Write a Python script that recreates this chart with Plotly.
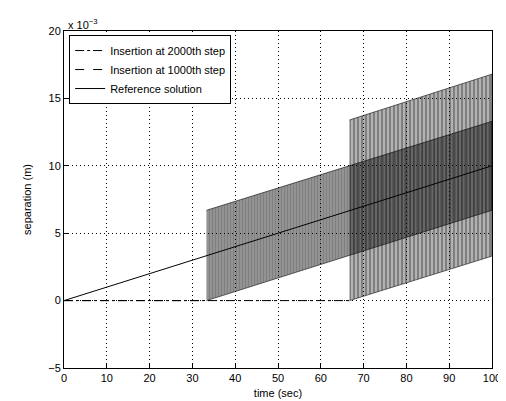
import plotly.graph_objects as go

# values in units of 1e-3 m
ref_t = [0, 100]
ref_y = [0, 10.0]

# insertion at 1000th step: flat until insertion, then an oscillating band
ins1000_flat_t = [0, 33.3]
ins1000_flat_y = [0, 0]
ins1000_band_t = [33.3, 100]
ins1000_low = [0, 6.7]
ins1000_high = [6.7, 13.3]

# insertion at 2000th step
ins2000_flat_t = [0, 66.7]
ins2000_flat_y = [0, 0]
ins2000_band_t = [66.7, 100]
ins2000_low = [0, 3.3]
ins2000_high = [13.4, 16.8]

x_ticks = list(range(0, 101, 10))
y_ticks = [-5, 0, 5, 10, 15, 20]

FONT = "Liberation Sans, Arial, sans-serif"

fig = go.Figure()


def band(t, low, high, size, solidity):
    # closed polygon between the lower and upper envelopes, hatched vertically
    xs = t + t[::-1]
    ys = low + high[::-1]
    return go.Scatter(
        x=xs, y=ys, fill="toself", mode="lines",
        line=dict(width=0.6, color="black"),
        fillcolor="rgba(0,0,0,0)",
        fillpattern=dict(shape="|", fgcolor="black", bgcolor="rgba(0,0,0,0)",
                         size=size, solidity=solidity, fillmode="overlay"),
        showlegend=False, hoverinfo="skip",
    )


fig.add_trace(band(ins1000_band_t, ins1000_low, ins1000_high, 3, 0.9))
fig.add_trace(band(ins2000_band_t, ins2000_low, ins2000_high, 4, 0.8))

fig.add_trace(go.Scatter(
    x=ins2000_flat_t, y=ins2000_flat_y, mode="lines",
    line=dict(color="black", width=1, dash="dashdot"),
    name="Insertion at 2000th step",
))
fig.add_trace(go.Scatter(
    x=ins1000_flat_t, y=ins1000_flat_y, mode="lines",
    line=dict(color="black", width=1, dash="dash"),
    name="Insertion at 1000th step",
))
fig.add_trace(go.Scatter(
    x=ref_t, y=ref_y, mode="lines",
    line=dict(color="black", width=1),
    name="Reference solution",
))

axis_common = dict(
    showline=True, linecolor="black", linewidth=1, mirror=True,
    ticks="inside", ticklen=5, tickcolor="black",
    showgrid=True, gridcolor="black", gridwidth=1, griddash="1px,3px",
    zeroline=False, automargin=False,
    tickfont=dict(family=FONT, size=11, color="black"),
)

fig.update_xaxes(
    range=[0, 100], tickvals=x_ticks,
    title=dict(text="time (sec)", font=dict(family=FONT, size=11, color="black"), standoff=6),
    **axis_common,
)
fig.update_yaxes(
    range=[-5, 20], tickvals=y_ticks,
    title=dict(text="separation (m)", font=dict(family=FONT, size=11, color="black"), standoff=14),
    **axis_common,
)

fig.add_annotation(
    x=0, y=1, xref="paper", yref="paper", xanchor="left", yanchor="bottom",
    text="x 10<sup>−3</sup>", showarrow=False, xshift=2, yshift=-2,
    font=dict(family=FONT, size=11, color="black"),
)

# the page body adds ~8px offset, margins compensate for it
fig.update_layout(
    width=506, height=401,
    margin=dict(l=56, r=22, t=23, b=41),
    paper_bgcolor="white", plot_bgcolor="white",
    font=dict(family=FONT, size=11, color="black"),
    legend=dict(
        x=0.012, y=0.988, xanchor="left", yanchor="top",
        bgcolor="white", bordercolor="black", borderwidth=1,
        font=dict(family=FONT, size=11, color="black"),
        tracegroupgap=0,
    ),
)

fig.write_html("out.html")
